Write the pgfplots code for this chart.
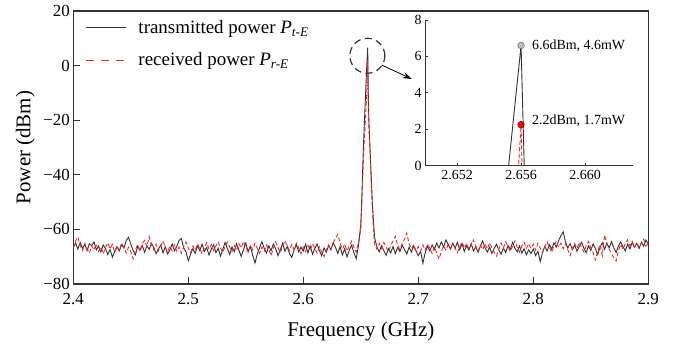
\documentclass[border=0pt]{standalone}
\usepackage{fontspec}
\setmainfont{Liberation Serif}
\usepackage{pgfplots}
\pgfplotsset{compat=1.18}
\usepackage{pgfplotstable}
\usetikzlibrary{arrows.meta}
\definecolor{tcol}{HTML}{333333}
\definecolor{rcol}{HTML}{FF2020}

\pgfplotstableread{
x y
2.400 -66.5
2.402 -65.0
2.404 -67.2
2.406 -64.8
2.408 -66.9
2.410 -65.5
2.412 -67.8
2.414 -65.2
2.416 -66.0
2.418 -64.6
2.420 -67.5
2.422 -66.1
2.424 -68.3
2.426 -65.7
2.428 -67.0
2.430 -69.2
2.432 -67.4
2.434 -70.2
2.436 -68.1
2.438 -66.3
2.440 -67.9
2.442 -65.6
2.444 -66.8
2.446 -64.1
2.448 -62.9
2.450 -65.4
2.452 -67.6
2.454 -69.3
2.456 -66.2
2.458 -67.7
2.460 -65.9
2.462 -68.4
2.464 -66.0
2.466 -67.3
2.468 -65.1
2.470 -66.7
2.472 -68.9
2.474 -67.1
2.476 -65.8
2.478 -68.6
2.480 -66.4
2.482 -69.0
2.484 -67.5
2.486 -65.3
2.488 -67.9
2.490 -66.2
2.492 -64.0
2.494 -63.3
2.496 -66.8
2.498 -68.2
2.500 -71.5
2.502 -69.1
2.504 -67.0
2.506 -68.8
2.508 -66.1
2.510 -67.7
2.512 -65.4
2.514 -68.0
2.516 -66.6
2.518 -69.4
2.520 -67.2
2.522 -65.6
2.524 -68.5
2.526 -66.9
2.528 -69.8
2.530 -67.3
2.532 -64.8
2.534 -67.0
2.536 -69.2
2.538 -66.4
2.540 -68.1
2.542 -65.2
2.544 -67.6
2.546 -69.9
2.548 -67.4
2.550 -65.0
2.552 -68.2
2.554 -66.3
2.556 -69.5
2.558 -72.3
2.560 -69.0
2.562 -66.7
2.564 -64.5
2.566 -66.9
2.568 -68.7
2.570 -66.0
2.572 -67.8
2.574 -65.3
2.576 -67.1
2.578 -69.6
2.580 -67.5
2.582 -65.1
2.584 -68.0
2.586 -66.2
2.588 -68.9
2.590 -70.3
2.592 -67.4
2.594 -65.7
2.596 -68.3
2.598 -66.5
2.600 -67.9
2.602 -65.4
2.604 -68.6
2.606 -66.1
2.608 -69.1
2.610 -67.0
2.612 -65.3
2.614 -67.7
2.616 -69.7
2.618 -66.8
2.620 -68.4
2.622 -65.9
2.624 -67.5
2.626 -64.9
2.628 -66.6
2.630 -68.8
2.632 -66.3
2.634 -69.4
2.636 -67.1
2.638 -70.1
2.640 -67.6
2.642 -65.8
2.644 -68.5
2.646 -70.7
2.648 -66.0
2.650 -58.0
2.651 -47.0
2.652 -33.0
2.653 -22.0
2.654 -12.0
2.655 -1.9
2.656 6.6
2.6565 -10.0
2.657 -20.0
2.658 -30.0
2.659 -40.0
2.660 -50.0
2.661 -57.0
2.662 -63.0
2.664 -66.4
2.666 -68.2
2.668 -66.0
2.670 -67.7
2.672 -69.5
2.674 -67.1
2.676 -68.6
2.678 -66.3
2.680 -68.9
2.682 -66.7
2.684 -68.1
2.686 -65.8
2.688 -67.4
2.690 -69.0
2.692 -66.5
2.694 -68.3
2.696 -66.1
2.698 -67.9
2.700 -69.6
2.702 -68.0
2.704 -72.4
2.706 -68.5
2.708 -66.2
2.710 -67.8
2.712 -65.7
2.714 -67.3
2.716 -65.0
2.718 -66.8
2.720 -64.6
2.722 -66.4
2.724 -63.9
2.726 -65.5
2.728 -67.2
2.730 -65.1
2.732 -66.9
2.734 -64.7
2.736 -67.4
2.738 -65.3
2.740 -68.1
2.742 -66.0
2.744 -67.6
2.746 -65.2
2.748 -67.9
2.750 -66.3
2.752 -68.4
2.754 -66.1
2.756 -64.2
2.758 -66.7
2.760 -68.3
2.762 -66.5
2.764 -68.8
2.766 -67.0
2.768 -65.4
2.770 -67.6
2.772 -69.1
2.774 -66.8
2.776 -68.5
2.778 -65.9
2.780 -67.3
2.782 -64.8
2.784 -66.9
2.786 -68.2
2.788 -66.0
2.790 -68.7
2.792 -67.1
2.794 -69.3
2.796 -67.5
2.798 -68.9
2.800 -67.2
2.802 -69.6
2.804 -68.0
2.806 -71.8
2.808 -68.4
2.810 -66.3
2.812 -67.9
2.814 -65.6
2.816 -67.2
2.818 -64.9
2.820 -66.5
2.822 -64.1
2.824 -62.3
2.826 -60.9
2.828 -64.6
2.830 -66.8
2.832 -65.2
2.834 -67.4
2.836 -65.8
2.838 -68.0
2.840 -66.2
2.842 -64.7
2.844 -66.9
2.846 -68.6
2.848 -66.0
2.850 -67.7
2.852 -65.3
2.854 -67.1
2.856 -69.2
2.858 -66.6
2.860 -64.9
2.862 -67.3
2.864 -65.0
2.866 -66.8
2.868 -64.5
2.870 -66.7
2.872 -68.5
2.874 -66.1
2.876 -64.6
2.878 -66.3
2.880 -67.9
2.882 -65.4
2.884 -67.2
2.886 -64.8
2.888 -66.6
2.890 -65.1
2.892 -67.0
2.894 -64.7
2.896 -66.2
2.898 -63.9
2.900 -65.5
}\tdata

\pgfplotstableread{
x y
2.400 -67.0
2.402 -64.2
2.404 -62.8
2.406 -65.9
2.408 -67.8
2.410 -65.1
2.412 -66.9
2.414 -68.6
2.416 -66.0
2.418 -67.5
2.420 -65.3
2.422 -68.1
2.424 -66.4
2.426 -68.9
2.428 -66.7
2.430 -64.9
2.432 -67.2
2.434 -65.5
2.436 -68.4
2.438 -66.2
2.440 -67.7
2.442 -65.0
2.444 -66.8
2.446 -68.7
2.448 -66.5
2.450 -68.2
2.452 -70.8
2.454 -67.4
2.456 -65.6
2.458 -67.9
2.460 -65.2
2.462 -64.0
2.464 -66.3
2.466 -62.7
2.468 -65.8
2.470 -67.5
2.472 -65.4
2.474 -67.8
2.476 -66.0
2.478 -64.3
2.480 -66.6
2.482 -68.3
2.484 -66.1
2.486 -67.9
2.488 -65.7
2.490 -68.0
2.492 -66.4
2.494 -68.7
2.496 -66.2
2.498 -64.6
2.500 -66.9
2.502 -68.5
2.504 -66.0
2.506 -67.6
2.508 -65.3
2.510 -67.1
2.512 -69.0
2.514 -66.7
2.516 -64.8
2.518 -67.3
2.520 -65.6
2.522 -67.8
2.524 -66.1
2.526 -64.5
2.528 -66.9
2.530 -68.4
2.532 -66.3
2.534 -64.7
2.536 -66.5
2.538 -68.1
2.540 -65.9
2.542 -67.7
2.544 -65.2
2.546 -66.8
2.548 -64.4
2.550 -66.6
2.552 -68.2
2.554 -65.8
2.556 -67.5
2.558 -65.1
2.560 -66.9
2.562 -68.8
2.564 -66.4
2.566 -68.0
2.568 -65.7
2.570 -67.3
2.572 -69.6
2.574 -66.9
2.576 -64.6
2.578 -66.7
2.580 -68.5
2.582 -66.2
2.584 -64.1
2.586 -66.0
2.588 -67.8
2.590 -65.5
2.592 -67.4
2.594 -65.0
2.596 -66.8
2.598 -68.9
2.600 -66.5
2.602 -68.1
2.604 -65.9
2.606 -67.6
2.608 -65.3
2.610 -66.9
2.612 -68.7
2.614 -66.4
2.616 -68.2
2.618 -70.0
2.620 -67.5
2.622 -65.7
2.624 -67.3
2.626 -64.9
2.628 -63.2
2.630 -61.8
2.632 -65.0
2.634 -67.2
2.636 -65.4
2.638 -67.9
2.640 -66.1
2.642 -64.3
2.644 -66.6
2.646 -68.3
2.648 -64.8
2.650 -60.0
2.651 -50.0
2.652 -38.0
2.653 -28.0
2.654 -20.0
2.655 -12.0
2.656 2.2
2.6565 -15.0
2.657 -22.0
2.658 -32.0
2.659 -42.0
2.660 -52.0
2.661 -60.0
2.662 -65.5
2.664 -67.3
2.666 -65.1
2.668 -67.0
2.670 -64.8
2.672 -66.5
2.674 -68.2
2.676 -66.0
2.678 -64.3
2.680 -62.5
2.682 -65.8
2.684 -67.4
2.686 -65.2
2.688 -63.6
2.690 -61.3
2.692 -65.4
2.694 -67.1
2.696 -65.6
2.698 -67.8
2.700 -66.3
2.702 -68.0
2.704 -65.7
2.706 -67.5
2.708 -65.4
2.710 -67.0
2.712 -68.8
2.714 -66.4
2.716 -68.6
2.718 -70.9
2.720 -68.1
2.722 -66.0
2.724 -67.7
2.726 -65.5
2.728 -67.2
2.730 -65.0
2.732 -66.8
2.734 -68.5
2.736 -66.3
2.738 -64.6
2.740 -66.9
2.742 -65.1
2.744 -67.3
2.746 -65.6
2.748 -63.9
2.750 -66.2
2.752 -68.0
2.754 -65.8
2.756 -67.5
2.758 -65.3
2.760 -67.1
2.762 -64.9
2.764 -66.7
2.766 -68.4
2.768 -69.8
2.770 -67.2
2.772 -65.0
2.774 -66.8
2.776 -64.5
2.778 -66.3
2.780 -68.1
2.782 -66.0
2.784 -64.2
2.786 -66.5
2.788 -68.3
2.790 -66.1
2.792 -64.7
2.794 -66.9
2.796 -65.2
2.798 -67.0
2.800 -65.4
2.802 -67.6
2.804 -65.1
2.806 -66.8
2.808 -68.6
2.810 -66.2
2.812 -64.5
2.814 -66.6
2.816 -68.4
2.818 -66.0
2.820 -64.3
2.822 -66.5
2.824 -65.0
2.826 -67.1
2.828 -65.3
2.830 -67.4
2.832 -69.6
2.834 -66.9
2.836 -65.2
2.838 -67.0
2.840 -64.8
2.842 -66.6
2.844 -68.3
2.846 -66.1
2.848 -64.4
2.850 -66.7
2.852 -68.5
2.854 -71.2
2.856 -68.0
2.858 -65.6
2.860 -69.6
2.862 -62.0
2.864 -65.3
2.866 -67.2
2.868 -69.0
2.870 -70.4
2.872 -71.6
2.874 -67.8
2.876 -65.5
2.878 -67.3
2.880 -65.1
2.882 -63.8
2.884 -66.0
2.886 -64.4
2.888 -66.5
2.890 -64.9
2.892 -66.7
2.894 -65.0
2.896 -63.6
2.898 -66.1
2.900 -65.2
}\rdata

\begin{document}
\begin{tikzpicture}
\useasboundingbox (-73.3bp,-68bp) rectangle (609.7bp,284bp);
\begin{axis}[
  at={(0bp,0bp)}, anchor=south west,
  scale only axis, width=575bp, height=273bp,
  xmin=2.4, xmax=2.9, ymin=-80, ymax=20,
  xtick={2.4,2.5,2.6,2.7,2.8,2.9},
  xticklabels={2.4,2.5,2.6,2.7,2.8,2.9},
  ytick={-80,-60,-40,-20,0,20},
  yticklabels={−80,−60,−40,−20,0,20},
  tick align=inside, xtick pos=bottom, ytick pos=left,
  major tick length=7bp,
  axis line style={tcol, line width=1.3bp},
  tick style={tcol, line width=1.1bp},
  ticklabel style={font=\fontsize{17}{20}\selectfont, text=black},
  xticklabel style={yshift=-6bp},
  xlabel={Frequency (GHz)}, ylabel={Power (dBm)},
  label style={font=\fontsize{21}{25}\selectfont},
  xlabel style={at={(axis description cs:0.5,0)}, anchor=center, yshift=-47bp},
  ylabel style={at={(axis description cs:0,0.5)}, anchor=center, xshift=0bp, yshift=48bp},
  legend style={at={(axis description cs:0,1)}, anchor=north west, xshift=10bp, yshift=-5bp,
    draw=none, fill=none, font=\fontsize{19}{22}\selectfont, row sep=14bp,
    inner sep=2bp},
  legend cell align=left,
  legend image code/.code={\draw[#1] (0bp,0bp) -- (40bp,0bp); \path (50bp,0bp);},
]
\addplot[tcol, line width=0.9bp] table[x=x,y=y] {\tdata};
\addlegendentry{transmitted power \textit{P}\textsubscript{\textit{t-E}}}
\addplot[rcol, line width=0.9bp, dash pattern=on 4bp off 2.5bp,
  legend image post style={rcol, line width=1bp, dash pattern=on 8.5bp off 6.5bp}] table[x=x,y=y] {\rdata};
\addlegendentry{received power \textit{P}\textsubscript{\textit{r-E}}}
\draw[tcol, line width=1.2bp, dash pattern=on 7bp off 4.5bp] (axis cs:2.6557,3.6) circle[radius=17.5bp];
\draw[black, line width=0.8bp, -{Stealth[length=9bp,width=6bp]}] (axis cs:2.6682,0.2) -- (axis cs:2.6943,-4.9);
\end{axis}

\begin{axis}[
  at={(351.7bp,118.3bp)}, anchor=south west,
  scale only axis, width=208bp, height=145.7bp,
  xmin=2.650, xmax=2.663, ymin=0, ymax=8,
  axis x line*=bottom, axis y line*=left,
  xtick={2.652,2.656,2.660}, xticklabels={2.652,2.656,2.660},
  ytick={0,2,4,6,8}, yticklabels={0,2,4,6,8},
  tick align=inside, major tick length=3bp,
  axis line style={tcol, line width=1bp},
  tick style={tcol, line width=0.8bp},
  ticklabel style={font=\fontsize{14}{16}\selectfont, text=black},
  xticklabel style={yshift=-1bp},
  clip=true,
]
\addplot[tcol, line width=0.9bp] table[x=x,y=y] {\tdata};
\addplot[rcol, line width=0.9bp, dash pattern=on 4bp off 2.5bp] table[x=x,y=y] {\rdata};
\addplot[only marks, mark=*, mark size=3.3bp, mark options={fill=black!25, draw=black!55, line width=0.6bp}] coordinates {(2.656,6.6)};
\addplot[only marks, mark=*, mark size=3.3bp, mark options={fill=red, draw=red!60!black, line width=0.6bp}] coordinates {(2.656,2.25)};
\node[anchor=west, inner sep=0pt, font=\fontsize{14}{16}\selectfont] at (axis cs:2.65668,6.6) {6.6dBm, 4.6mW};
\node[anchor=west, inner sep=0pt, font=\fontsize{14}{16}\selectfont] at (axis cs:2.65668,2.45) {2.2dBm, 1.7mW};
\end{axis}
\end{tikzpicture}
\end{document}
